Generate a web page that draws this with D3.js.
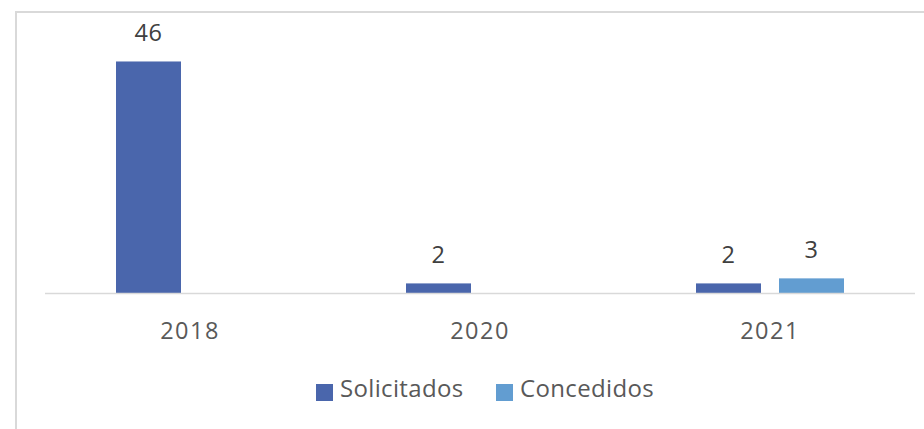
<!DOCTYPE html>
<html>
<head>
<meta charset="utf-8">
<script src="https://cdn.jsdelivr.net/npm/d3@7"></script>
<style>
  body { margin: 0; background: #fff; }
  svg { display: block; font-family: "Open Sans", "Noto Sans", sans-serif; }
</style>
</head>
<body>
<div id="chart"></div>
<script>
// data
var years = ["2018", "2020", "2021"]
var series = ["Solicitados", "Concedidos"]
var solicitados = [46, 2, 2]
var concedidos = [null, null, 3]
var colors = ["#4a66ac", "#629dd1"]

var width = 924,
    height = 429

var svg = d3.select("#chart")
    .append("svg")
    .attr("width", width)
    .attr("height", height)

// chart frame (runs off the right and bottom edge)
svg.append("rect")
    .attr("x", 16)
    .attr("y", 12)
    .attr("width", width + 20)
    .attr("height", height + 20)
    .attr("fill", "none")
    .attr("stroke", "#d9d9d9")
    .attr("stroke-width", 2)

var x0 = d3.scaleBand()
    .domain(years)
    .range([45, 915])

var x1 = d3.scaleBand()
    .domain(series)
    .range([71, 219])
    .paddingInner(18 / 83)

var y = d3.scaleLinear()
    .domain([0, 50])
    .range([293.5, 41.3])

var rows = years.map(function(yr, i) {
    return { year: yr, values: [solicitados[i], concedidos[i]] }
})

var groups = svg.append("g")
    .selectAll("g")
    .data(rows)
    .enter().append("g")
    .attr("transform", function(d) { return "translate(" + x0(d.year) + ",0)" })

var cells = groups.selectAll("g")
    .data(function(d) {
        return series.map(function(s, j) { return { key: s, idx: j, value: d.values[j] } })
            .filter(function(c) { return c.value != null })
    })
    .enter().append("g")

cells.append("rect")
    .attr("x", function(d) { return x1(d.key) })
    .attr("y", function(d) { return y(d.value) })
    .attr("width", x1.bandwidth())
    .attr("height", function(d) { return y(0) - y(d.value) })
    .attr("fill", function(d) { return colors[d.idx] })

cells.append("text")
    .attr("x", function(d) { return x1(d.key) + x1.bandwidth() / 2 })
    .attr("y", function(d) { return y(d.value) - 20 })
    .attr("text-anchor", "middle")
    .style("font-size", "23.5px")
    .style("letter-spacing", "0.5px")
    .style("fill", "#404040")
    .text(function(d) { return d.value })

// baseline
svg.append("line")
    .attr("x1", 45)
    .attr("x2", 915)
    .attr("y1", y(0))
    .attr("y2", y(0))
    .attr("stroke", "#d9d9d9")
    .attr("stroke-width", 1.5)

// category labels
var xAxis = svg.append("g")
    .attr("transform", "translate(0," + y(0) + ")")
    .call(d3.axisBottom(x0).tickSize(0).tickPadding(0))
xAxis.select(".domain").remove()
xAxis.selectAll("text")
    .attr("dy", 45)
    .style("font-family", "\"Open Sans\", sans-serif")
    .style("font-size", "23.5px")
    .style("letter-spacing", "1.5px")
    .style("fill", "#595959")

// legend
var legendX = [316, 496]
var legend = svg.append("g")
    .selectAll("g")
    .data(series)
    .enter().append("g")
    .attr("transform", function(d, i) { return "translate(" + legendX[i] + ",384)" })

legend.append("rect")
    .attr("width", 17)
    .attr("height", 17)
    .attr("fill", function(d, i) { return colors[i] })

legend.append("text")
    .attr("x", 24)
    .attr("y", 13)
    .style("font-size", "24px")
    .style("letter-spacing", "0.35px")
    .style("fill", "#595959")
    .text(function(d) { return d })
</script>
</body>
</html>
